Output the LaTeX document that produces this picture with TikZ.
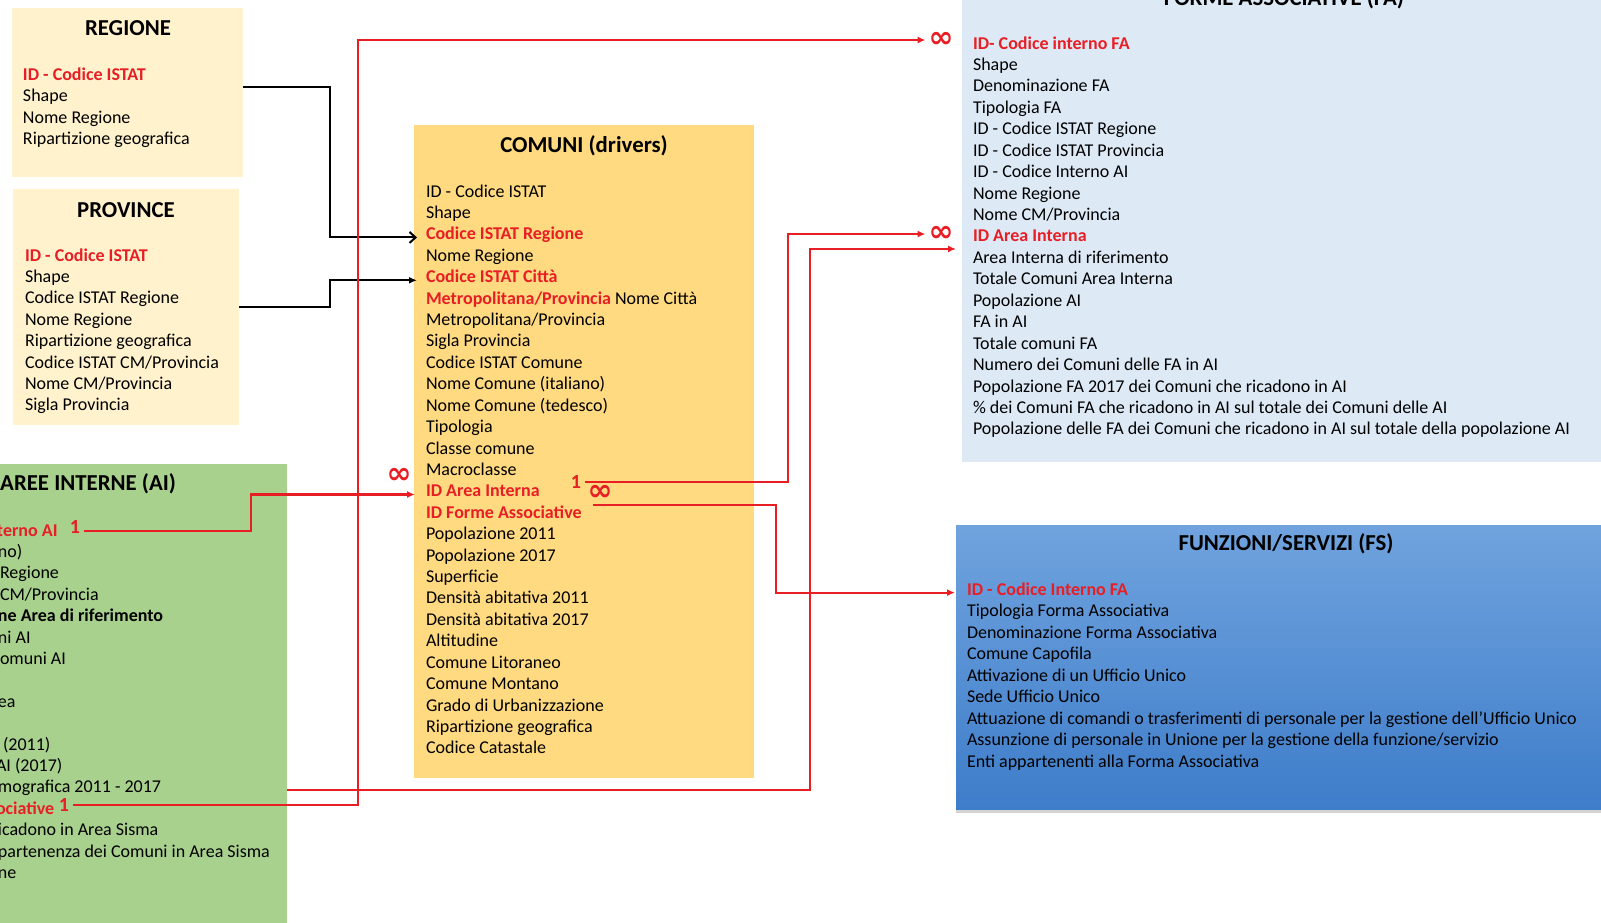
\documentclass[tikz,border=0pt]{standalone}
\usepackage{fontspec}
\setmainfont{Carlito}
\newfontfamily\symfont{DejaVu Sans}
\usetikzlibrary{arrows.meta,calc,shadows}
\definecolor{rd}{RGB}{232,30,37}
\definecolor{peach}{RGB}{255,242,204}
\definecolor{gold}{RGB}{255,218,128}
\definecolor{grn}{RGB}{169,209,142}
\definecolor{lblue}{RGB}{221,234,246}
\definecolor{fstop}{RGB}{112,163,222}
\definecolor{fsbot}{RGB}{62,125,202}
\newcommand\keyf[1]{\textcolor{rd}{\bfseries #1}}
\begin{document}
\begin{tikzpicture}[x=1pt,y=-1pt,
  box/.style={inner sep=0pt,outer sep=0pt,anchor=north west,draw=none},
  row/.style={anchor=base west,inner sep=0pt,outer sep=0pt,font=\fontsize{18}{21.5}\selectfont,text=black},
  ttl/.style={anchor=base,inner sep=0pt,font=\fontsize{22.8}{27}\selectfont\bfseries,text=black},
  cardone/.style={inner sep=0pt,outer sep=4pt,text=rd,font=\fontsize{20}{20}\selectfont\bfseries},
  infsym/.style={inner sep=0pt,outer sep=3pt,text=rd,font=\symfont\bfseries\fontsize{30}{30}\selectfont},
  rl/.style={draw=rd,line width=2.2pt,-{Latex[length=8pt,width=7pt]}},
  bk/.style={draw=black,line width=2pt}]
\useasboundingbox (0,0) rectangle (1601,922);
\clip (0,0) rectangle (1601,922);
% boxes
\node[box,fill=peach,minimum width=231,minimum height=169] (reg) at (12,8) {};
\node[box,fill=peach,minimum width=226,minimum height=236] (prov) at (13,189) {};
\node[box,fill=gold,minimum width=340,minimum height=653] (cbox) at (414,125) {};
\node[box,fill=grn,minimum width=292,minimum height=470] (aibox) at (-5,464) {};
\node[box,fill=lblue,minimum width=650,minimum height=472] (fabox) at (962,-10) {};
\node[box,top color=fstop,bottom color=fsbot,minimum width=650,minimum height=284,
  drop shadow={shadow xshift=0pt,shadow yshift=-4pt,opacity=0.35}] (fsbox) at (956,525) {};
% titles
\node[ttl] (treg) at (128,35) {REGIONE};
\node[ttl] (tprov) at (126,217) {PROVINCE};
\node[ttl] (tcom) at (584,152) {COMUNI (drivers)};
\node[ttl,anchor=base west] (tai) at (0,490) {AREE INTERNE (AI)};
\node[ttl] (tfa) at (1284,5) {FORME ASSOCIATIVE (FA)};
\node[ttl] (tfs) at (1286,550) {FUNZIONI/SERVIZI (FS)};
% rows
\foreach \t [count=\i from 0] in {\keyf{ID - Codice ISTAT},Shape,Nome Regione,Ripartizione geografica}
  \node[row] (reg-\i) at (23,{80+\i*21.5}) {\t};
\foreach \t [count=\i from 0] in {\keyf{ID - Codice ISTAT},Shape,Codice ISTAT Regione,Nome Regione,Ripartizione geografica,{Codice ISTAT CM/Provincia},{Nome CM/Provincia},Sigla Provincia}
  \node[row] (prov-\i) at (25,{261+\i*21.4}) {\t};
\foreach \t [count=\i from 0] in {ID - Codice ISTAT,Shape,\keyf{Codice ISTAT Regione},Nome Regione,\keyf{Codice ISTAT Città},{\keyf{Metropolitana/Provincia} Nome Città},{Metropolitana/Provincia},Sigla Provincia,Codice ISTAT Comune,Nome Comune (italiano),Nome Comune (tedesco),Tipologia,Classe comune,Macroclasse,\keyf{ID Area Interna},\keyf{ID Forme Associative},Popolazione 2011,Popolazione 2017,Superficie,Densità abitativa 2011,Densità abitativa 2017,Altitudine,Comune Litoraneo,Comune Montano,Grado di Urbanizzazione,Ripartizione geografica,Codice Catastale}
  \node[row] (cr-\i) at (426,{197+\i*21.42}) {\t};
\foreach \t [count=\i from 0] in {\keyf{ID- Codice interno FA},Shape,Denominazione FA,Tipologia FA,ID - Codice ISTAT Regione,ID - Codice ISTAT Provincia,ID - Codice Interno AI,Nome Regione,{Nome CM/Provincia},\keyf{ID Area Interna},Area Interna di riferimento,Totale Comuni Area Interna,Popolazione AI,FA in AI,Totale comuni FA,Numero dei Comuni delle FA in AI,Popolazione FA 2017 dei Comuni che ricadono in AI,\% dei Comuni FA che ricadono in AI sul totale dei Comuni delle AI,Popolazione delle FA dei Comuni che ricadono in AI sul totale della popolazione AI}
  \node[row] (fa-\i) at (973,{49+\i*21.44}) {\t};
\foreach \t [count=\i from 0] in {\keyf{ID - Codice Interno FA},Tipologia Forma Associativa,Denominazione Forma Associativa,Comune Capofila,Attivazione di un Ufficio Unico,Sede Ufficio Unico,Attuazione di comandi o trasferimenti di personale per la gestione dell'Ufficio Unico,{Assunzione di personale in Unione per la gestione della funzione/servizio},Enti appartenenti alla Forma Associativa}
  \node[row] (fs-\i) at (967,{595+\i*21.5}) {\t};
% AREE INTERNE fragments (cut by the left edge)
\node[row] (ai-0) at (-3,536) {\keyf{terno AI}};
\node[row] (ai-1) at (-2,557.4) {no)};
\node[row] (ai-2) at (0,578.8) {Regione};
\node[row] (ai-3) at (0,600.2) {CM/Provincia};
\node[row] (ai-4) at (-2,621.6) {\bfseries ne Area di riferimento};
\node[row] (ai-5) at (-2,643) {ni AI};
\node[row] (ai-6) at (0,664.4) {omuni AI};
\node[row] (ai-8) at (-2,707.2) {ea};
\node[row] (ai-10) at (3,750) {(2011)};
\node[row] (ai-11) at (-4,771.4) {AI (2017)};
\node[row] (ai-12) at (-2,792.8) {mografica 2011 - 2017};
\node[row] (ai-13) at (-4,814.2) {\keyf{ociative}};
\node[row] (ai-14) at (-2,835.6) {icadono in Area Sisma};
\node[row] (ai-15) at (-2,857) {partenenza dei Comuni in Area Sisma};
\node[row] (ai-16) at (-2,878.4) {ne};
% cardinality labels
\node[cardone] (oneA) at (75,527) {1};
\node[cardone] (oneB) at (64,805) {1};
\node[cardone] (oneC) at (576,482) {1};
\node[infsym] (infA) at (941,40) {∞};
\node[infsym] (infB) at (941,234) {∞};
\node[infsym] (infC) at (399,476) {∞};
\node[infsym] (infD) at (600,493) {∞};
\coordinate (fain) at ($(fabox.west |- fa-9.base)+(-6,7)$);
% black connectors
\draw[bk,-{Straight Barb[length=6pt,width=11pt]}] ($(reg.north east)+(0,79)$) -| (330,0 |- cr-2.mid west) -- ($(cbox.west |- cr-2.mid west)+(3,0)$);
\draw[bk,-{Latex[length=8pt,width=7pt]}] (prov.east) -| (330,0 |- cr-4.mid west) -- ($(cbox.west |- cr-4.mid west)+(3,0)$);
% red connectors
\draw[rl] (oneB.east) -| (358,0 |- infA.west) -- (infA.west);
\draw[rl] ($(oneA.east)+(0,4)$) -| (251,0 |- cr-14.mid west) -- ($(cbox.west |- cr-14.mid west)+(1,0)$);
\draw[rl] (oneC.east) -| (788,0 |- infB.west) -- (infB.west);
\draw[rl] ($(cr-15.east)+(11,-7)$) -| (776,0 |- fs-0.mid west) -- ($(fsbox.west |- fs-0.mid west)+(-1,0)$);
\draw[rl] ($(aibox.east |- ai-12.base)+(0,-3)$) -| (810,0 |- fain) -- (fain);
\end{tikzpicture}
\end{document}
